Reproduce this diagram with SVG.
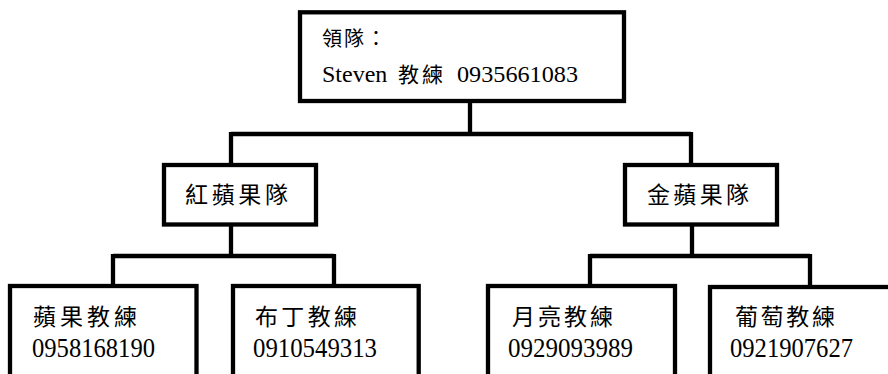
<svg xmlns="http://www.w3.org/2000/svg" width="888" height="374" viewBox="0 0 888 374">
<style>
.box{fill:#fff;stroke:#000;stroke-width:4.3}
.con{fill:none;stroke:#000;stroke-width:4.3;stroke-linejoin:miter}
text{fill:#000}
</style>
<rect width="888" height="374" fill="#fff"/>
<g id="connectors">
<path class="con" d="M470 101 V134 M231 134 H691 M231 132 V165 M691 132 V165"/>
<path class="con" d="M231 224 V256 M113 256 H334 M113 254 V286 M334 254 V286"/>
<path class="con" d="M692 224 V256 M590 256 H810 M590 254 V287 M810 254 V287"/>
</g>
<g id="leader">
<rect class="box" x="300" y="12.3" width="324" height="88.7"/>
<text font-family="Noto Sans CJK TC, sans-serif" x="322" y="46" font-size="20" letter-spacing="2">領隊：</text>
<text font-family="Liberation Serif, DejaVu Serif, serif" x="322" y="82" font-size="24">Steven</text>
<text font-family="Noto Sans CJK TC, sans-serif" x="398" y="82" font-size="21" letter-spacing="3">教練</text>
<text font-family="Liberation Serif, DejaVu Serif, serif" x="457" y="82" font-size="24" textLength="121" lengthAdjust="spacingAndGlyphs">0935661083</text>
</g>
<g id="red-team">
<rect class="box" x="164" y="165" width="152" height="59.5"/>
<text font-family="Noto Sans CJK TC, sans-serif" x="185" y="203" font-size="23" textLength="103" lengthAdjust="spacing">紅蘋果隊</text>
</g>
<g id="gold-team">
<rect class="box" x="625" y="165" width="152" height="59.5"/>
<text font-family="Noto Sans CJK TC, sans-serif" x="647" y="203" font-size="23" textLength="102" lengthAdjust="spacing">金蘋果隊</text>
</g>
<g id="apple-coach">
<rect class="box" x="10" y="286" width="186.5" height="110"/>
<text font-family="Noto Sans CJK TC, sans-serif" x="33" y="325" font-size="23" textLength="104" lengthAdjust="spacing">蘋果教練</text>
<text font-family="Liberation Serif, DejaVu Serif, serif" x="32" y="356.5" font-size="27" textLength="123" lengthAdjust="spacingAndGlyphs">0958168190</text>
</g>
<g id="pudding-coach">
<rect class="box" x="233" y="286" width="185.7" height="110"/>
<text font-family="Noto Sans CJK TC, sans-serif" x="255" y="325" font-size="23" textLength="102" lengthAdjust="spacing">布丁教練</text>
<text font-family="Liberation Serif, DejaVu Serif, serif" x="253" y="356.5" font-size="27" textLength="124" lengthAdjust="spacingAndGlyphs">0910549313</text>
</g>
<g id="moon-coach">
<rect class="box" x="488" y="286" width="187" height="110"/>
<text font-family="Noto Sans CJK TC, sans-serif" x="512" y="325" font-size="23" textLength="101" lengthAdjust="spacing">月亮教練</text>
<text font-family="Liberation Serif, DejaVu Serif, serif" x="508" y="356.5" font-size="27" textLength="125" lengthAdjust="spacingAndGlyphs">0929093989</text>
</g>
<g id="grape-coach">
<rect class="box" x="710" y="287" width="190" height="110"/>
<text font-family="Noto Sans CJK TC, sans-serif" x="735" y="325" font-size="23" textLength="100" lengthAdjust="spacing">葡萄教練</text>
<text font-family="Liberation Serif, DejaVu Serif, serif" x="730" y="356.5" font-size="27" textLength="123" lengthAdjust="spacingAndGlyphs">0921907627</text>
</g>
</svg>
